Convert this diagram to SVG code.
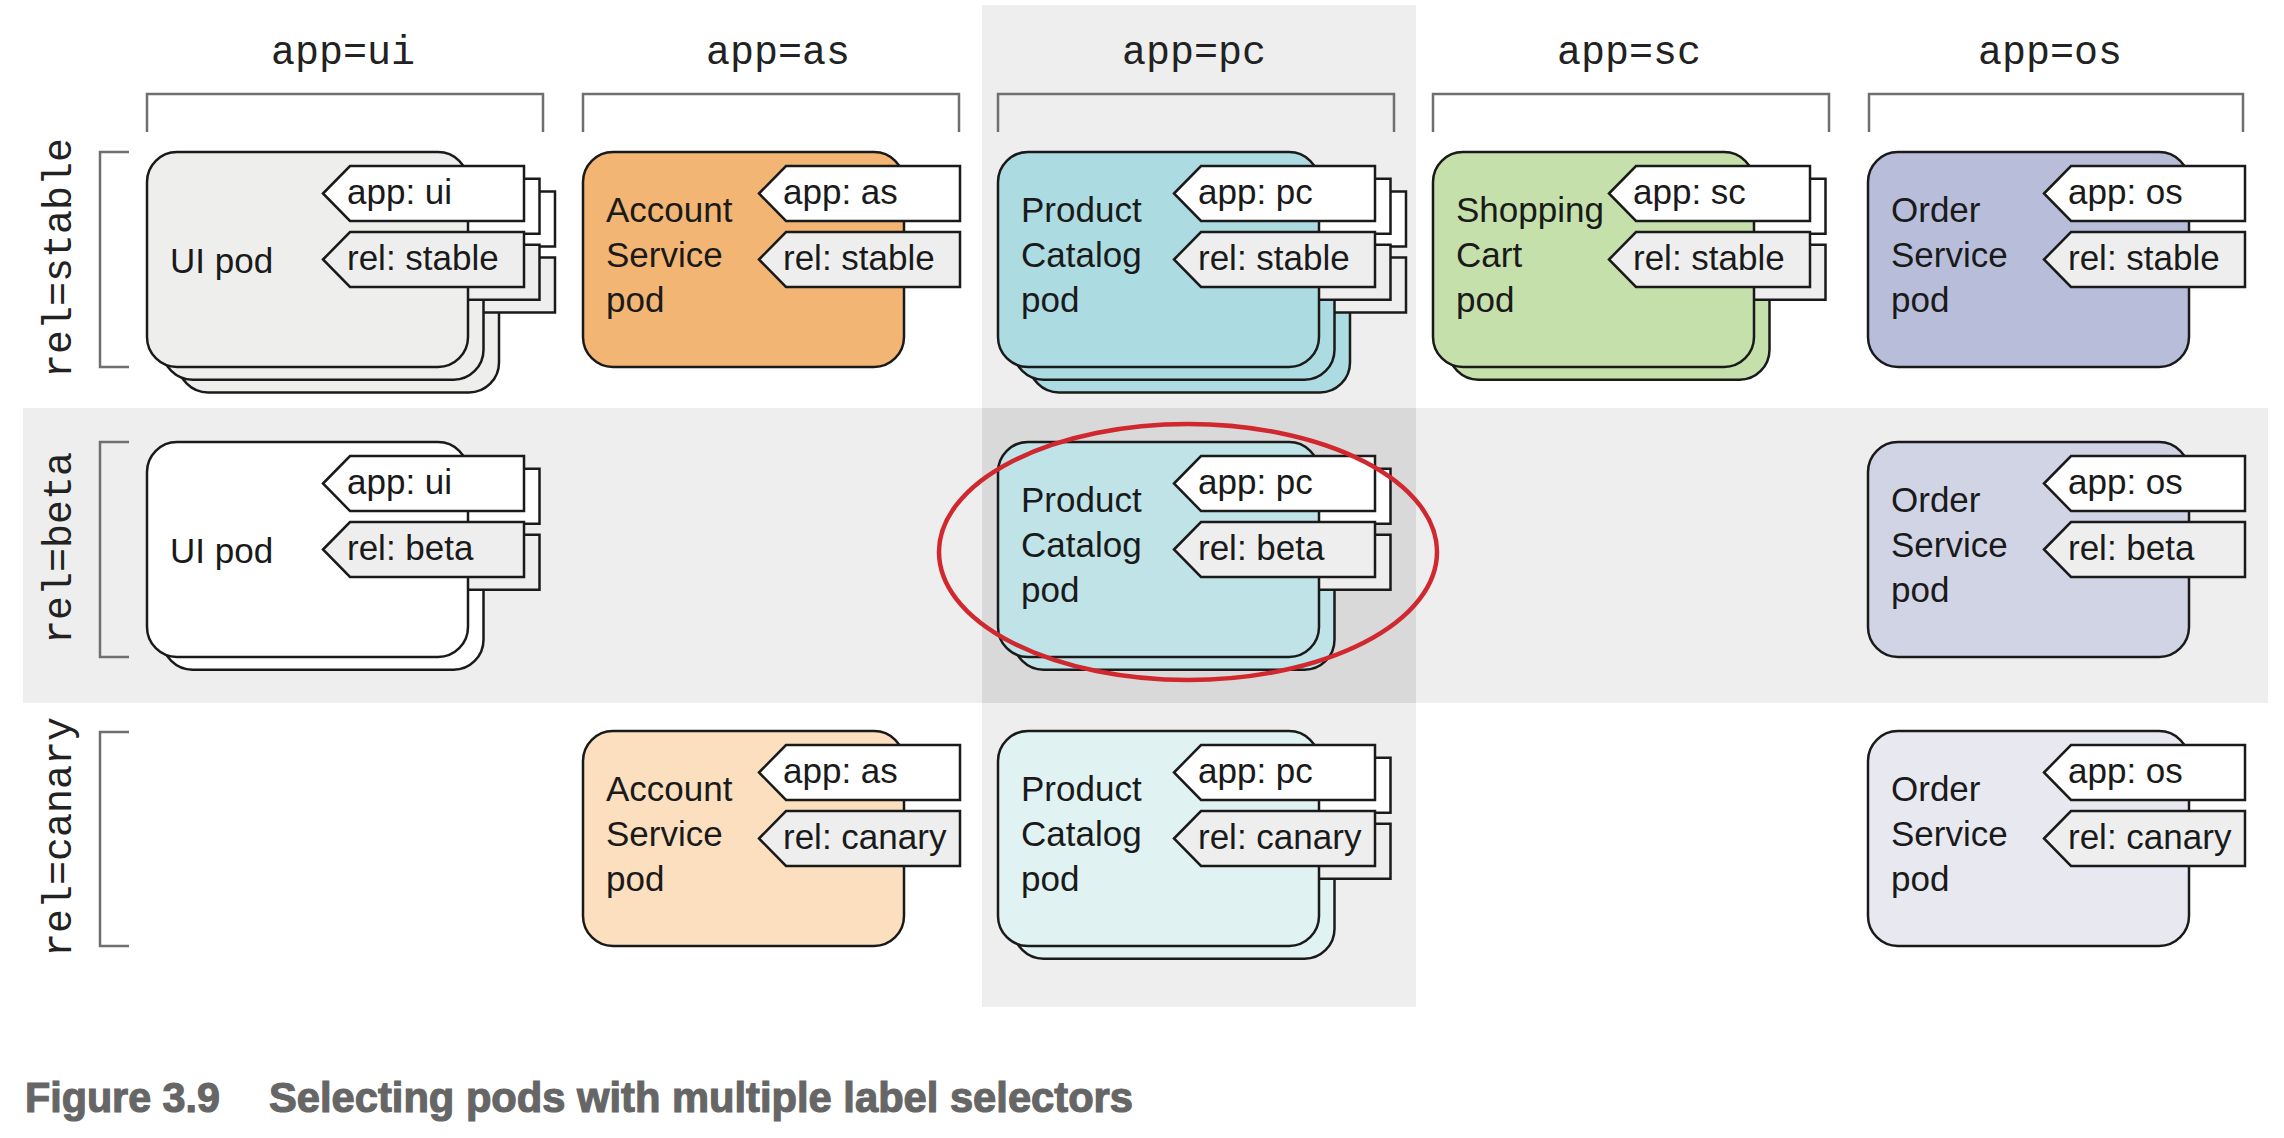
<svg xmlns="http://www.w3.org/2000/svg" width="2284" height="1138" viewBox="0 0 2284 1138">
<style>
.hdr{font-family:"Liberation Mono","DejaVu Sans Mono",monospace;font-size:40px;fill:#222;text-anchor:middle}
.pt{font-family:"Liberation Sans",Arial,sans-serif;font-size:35px;fill:#1a1a1a}
.tt{font-family:"Liberation Sans",Arial,sans-serif;font-size:35px;fill:#1a1a1a}
.brk{fill:none;stroke:#6f6f6f;stroke-width:2.5}
.cap{font-family:"Liberation Sans Narrow","Liberation Sans",Arial,sans-serif;font-weight:bold;font-size:43px;fill:#666;stroke:#666;stroke-width:1.2}
</style>
<defs>
<rect id="pod" x="0" y="0" width="321" height="215" rx="30" ry="30" stroke="#1a1a1a" stroke-width="2.5"/>
<polygon id="tagA" points="176,41.5 203,14 377,14 377,69 203,69" fill="#ffffff" stroke="#1a1a1a" stroke-width="2.5"/>
<polygon id="tagR" points="176,107.5 203,80 377,80 377,135 203,135" fill="#eeeeee" stroke="#1a1a1a" stroke-width="2.5"/>
<g id="layer"><use href="#pod"/><use href="#tagA"/><use href="#tagR"/></g>
</defs>

<rect width="2284" height="1138" fill="#ffffff"/>

<!-- bands -->
<g id="bands">
<rect x="23" y="408" width="2245" height="295" fill="#eeeeee"/>
<rect x="982" y="5" width="434" height="1002" fill="#eeeeee"/>
<rect x="982" y="408" width="434" height="295" fill="#d9d9d9"/>
</g>

<!-- column headers -->
<g id="headers">
<text class="hdr" x="343" y="64">app=ui</text>
<text class="hdr" x="778" y="64">app=as</text>
<text class="hdr" x="1194" y="64">app=pc</text>
<text class="hdr" x="1629" y="64">app=sc</text>
<text class="hdr" x="2050" y="64">app=os</text>
<text class="hdr" transform="translate(71,258) rotate(-90)">rel=stable</text>
<text class="hdr" transform="translate(71,548) rotate(-90)">rel=beta</text>
<text class="hdr" transform="translate(71,837) rotate(-90)">rel=canary</text>
</g>

<g id="brackets">
<path class="brk" d="M147,132 V94 H543 V132"/>
<path class="brk" d="M583,132 V94 H959 V132"/>
<path class="brk" d="M998,132 V94 H1394 V132"/>
<path class="brk" d="M1433,132 V94 H1829 V132"/>
<path class="brk" d="M1869,132 V94 H2243 V132"/>
<path class="brk" d="M129,152 H100 V367 H129"/>
<path class="brk" d="M129,442 H100 V657 H129"/>
<path class="brk" d="M129,732 H100 V946 H129"/>
</g>

<g id="connectors"/>

<!-- stable row -->
<g id="pod-ui-stable" transform="translate(147,152)" fill="#eeeeed">
<use href="#layer" transform="translate(31,25.4)"/>
<use href="#layer" transform="translate(15.5,12.7)"/>
<use href="#layer"/>
<text class="pt" x="23" y="121">UI pod</text>
<text class="tt" x="200" y="52">app: ui</text>
<text class="tt" x="200" y="118">rel: stable</text>
</g>

<g id="pod-as-stable" transform="translate(583,152)" fill="#f2b574">
<use href="#layer"/>
<text class="pt" x="23" y="70">Account</text>
<text class="pt" x="23" y="115">Service</text>
<text class="pt" x="23" y="160">pod</text>
<text class="tt" x="200" y="52">app: as</text>
<text class="tt" x="200" y="118">rel: stable</text>
</g>

<g id="pod-pc-stable" transform="translate(998,152)" fill="#acdbe1">
<use href="#layer" transform="translate(31,25.4)"/>
<use href="#layer" transform="translate(15.5,12.7)"/>
<use href="#layer"/>
<text class="pt" x="23" y="70">Product</text>
<text class="pt" x="23" y="115">Catalog</text>
<text class="pt" x="23" y="160">pod</text>
<text class="tt" x="200" y="52">app: pc</text>
<text class="tt" x="200" y="118">rel: stable</text>
</g>

<g id="pod-sc-stable" transform="translate(1433,152)" fill="#c5e0ab">
<use href="#layer" transform="translate(15.5,12.7)"/>
<use href="#layer"/>
<text class="pt" x="23" y="70">Shopping</text>
<text class="pt" x="23" y="115">Cart</text>
<text class="pt" x="23" y="160">pod</text>
<text class="tt" x="200" y="52">app: sc</text>
<text class="tt" x="200" y="118">rel: stable</text>
</g>

<g id="pod-os-stable" transform="translate(1868,152)" fill="#b8bed9">
<use href="#layer"/>
<text class="pt" x="23" y="70">Order</text>
<text class="pt" x="23" y="115">Service</text>
<text class="pt" x="23" y="160">pod</text>
<text class="tt" x="200" y="52">app: os</text>
<text class="tt" x="200" y="118">rel: stable</text>
</g>

<!-- beta row -->
<g id="pod-ui-beta" transform="translate(147,442)" fill="#ffffff">
<use href="#layer" transform="translate(15.5,12.7)"/>
<use href="#layer"/>
<text class="pt" x="23" y="121">UI pod</text>
<text class="tt" x="200" y="52">app: ui</text>
<text class="tt" x="200" y="118">rel: beta</text>
</g>

<g id="pod-pc-beta" transform="translate(998,442)" fill="#bfe3e7">
<use href="#layer" transform="translate(15.5,12.7)"/>
<use href="#layer"/>
<text class="pt" x="23" y="70">Product</text>
<text class="pt" x="23" y="115">Catalog</text>
<text class="pt" x="23" y="160">pod</text>
<text class="tt" x="200" y="52">app: pc</text>
<text class="tt" x="200" y="118">rel: beta</text>
</g>

<g id="pod-os-beta" transform="translate(1868,442)" fill="#d1d4e5">
<use href="#layer"/>
<text class="pt" x="23" y="70">Order</text>
<text class="pt" x="23" y="115">Service</text>
<text class="pt" x="23" y="160">pod</text>
<text class="tt" x="200" y="52">app: os</text>
<text class="tt" x="200" y="118">rel: beta</text>
</g>

<!-- canary row -->
<g id="pod-as-canary" transform="translate(583,731)" fill="#fbdfbf">
<use href="#layer"/>
<text class="pt" x="23" y="70">Account</text>
<text class="pt" x="23" y="115">Service</text>
<text class="pt" x="23" y="160">pod</text>
<text class="tt" x="200" y="52">app: as</text>
<text class="tt" x="200" y="118">rel: canary</text>
</g>

<g id="pod-pc-canary" transform="translate(998,731)" fill="#e0f2f2">
<use href="#layer" transform="translate(15.5,12.7)"/>
<use href="#layer"/>
<text class="pt" x="23" y="70">Product</text>
<text class="pt" x="23" y="115">Catalog</text>
<text class="pt" x="23" y="160">pod</text>
<text class="tt" x="200" y="52">app: pc</text>
<text class="tt" x="200" y="118">rel: canary</text>
</g>

<g id="pod-os-canary" transform="translate(1868,731)" fill="#e8e9f0">
<use href="#layer"/>
<text class="pt" x="23" y="70">Order</text>
<text class="pt" x="23" y="115">Service</text>
<text class="pt" x="23" y="160">pod</text>
<text class="tt" x="200" y="52">app: os</text>
<text class="tt" x="200" y="118">rel: canary</text>
</g>

<!-- selection ellipse -->
<g id="selection">
<ellipse cx="1188" cy="552" rx="249" ry="128" fill="none" stroke="#d0282e" stroke-width="4.5"/>
</g>

<g id="caption">
<text class="cap" x="25" y="1112" textLength="195" lengthAdjust="spacingAndGlyphs">Figure 3.9</text>
<text class="cap" x="269" y="1112" textLength="864" lengthAdjust="spacingAndGlyphs">Selecting pods with multiple label selectors</text>
</g>
</svg>
